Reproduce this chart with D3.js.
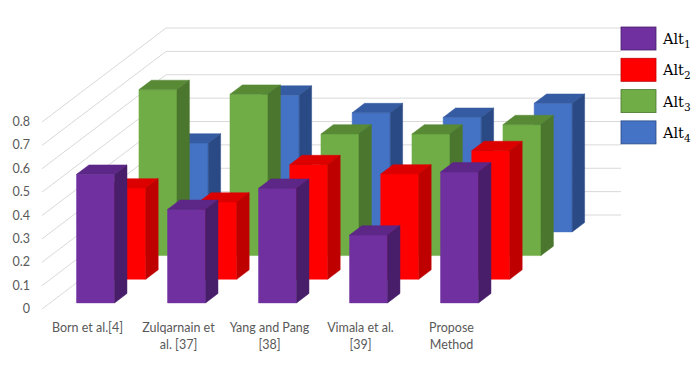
<!DOCTYPE html>
<html>
<head>
<meta charset="utf-8">
<script src="https://cdn.jsdelivr.net/npm/d3@7"></script>
<style>
  html, body { margin: 0; padding: 0; background: #fff; }
  svg { display: block; }
</style>
</head>
<body>
<svg id="chart" width="700" height="371"></svg>
<script>
// ---- data ----
const categories = [["Born et al.[4]"], ["Zulqarnain et", "al. [37]"], ["Yang and Pang", "[38]"], ["Vimala et al.", "[39]"], ["Propose", "Method"]];
const seriesNames = ["1", "2", "3", "4"];
const alt1 = [0.55, 0.40, 0.49, 0.29, 0.56];
const alt2 = [0.39, 0.33, 0.49, 0.45, 0.55];
const alt3 = [0.71, 0.69, 0.52, 0.52, 0.56];
const alt4 = [0.38, 0.585, 0.51, 0.49, 0.55];
const yTicks = [0, 0.1, 0.2, 0.3, 0.4, 0.5, 0.6, 0.7, 0.8];

const seriesValues = [alt1, alt2, alt3, alt4];
const colors = [
  {front: "#7030A0", top: "#5C2787", side: "#481E6B"},
  {front: "#FF0000", top: "#DD0000", side: "#BE0000"},
  {front: "#70AD47", top: "#588A36", side: "#4A762E"},
  {front: "#4472C4", top: "#355CA3", side: "#2A4A86"}
];

const svg = d3.select("#chart");

// oblique 3D projection
const DX = 124, DY = 94;           // offset of back wall relative to front plane
const x = d3.scaleBand().domain(d3.range(categories.length)).range([42, 497]).paddingInner(0.582).paddingOuter(0.291);
const y = d3.scaleLinear().domain([0, 0.8]).range([309, 122]);
const rowFront = d3.scaleLinear().domain([0, 3]).range([0.065, 0.82]); // depth of each series row
const barDepth = 0.1;
const P = (xf, v, d) => [xf + DX * d, y(v) - DY * d];

// gridlines: left wall diagonal + back wall horizontal
const grid = svg.append("g").attr("fill", "none").attr("stroke", "#D9D9D9").attr("stroke-width", 1);
yTicks.forEach(v => {
  const a = P(42, v, 0), b = P(42, v, 1), c = P(497, v, 1);
  grid.append("polyline").attr("points", [a, b, c].map(p => p.join(",")).join(" "));
});

// y tick labels
svg.append("g").selectAll("text").data(yTicks).join("text")
  .attr("x", 30).attr("y", d => y(d) + 4)
  .attr("text-anchor", "end")
  .attr("font-family", "Lato, 'Open Sans', sans-serif").attr("font-size", 12.5)
  .attr("fill", "#595959")
  .text(d => d === 0 ? "0" : d3.format(".1f")(d));

// bars, back rows first
const bars = svg.append("g");
for (let s = 3; s >= 0; s--) {
  const d0 = rowFront(s), d1 = d0 + barDepth;
  seriesValues[s].forEach((v, i) => {
    const xl = x(i), xr = x(i) + x.bandwidth();
    const g = bars.append("g");
    const poly = pts => pts.map(p => p.join(",")).join(" ");
    // front face
    g.append("polygon").attr("points", poly([P(xl, 0, d0), P(xr, 0, d0), P(xr, v, d0), P(xl, v, d0)]))
      .attr("fill", colors[s].front).attr("stroke", colors[s].front).attr("stroke-width", 0.5);
    // top face
    g.append("polygon").attr("points", poly([P(xl, v, d0), P(xr, v, d0), P(xr, v, d1), P(xl, v, d1)]))
      .attr("fill", colors[s].top).attr("stroke", colors[s].top).attr("stroke-width", 0.5);
    // side face
    g.append("polygon").attr("points", poly([P(xr, 0, d0), P(xr, 0, d1), P(xr, v, d1), P(xr, v, d0)]))
      .attr("fill", colors[s].side).attr("stroke", colors[s].side).attr("stroke-width", 0.5);
  });
}

// category labels
const cat = svg.append("g").attr("font-family", "Lato, 'Open Sans', sans-serif").attr("font-size", 12.5).attr("fill", "#595959").attr("text-anchor", "middle");
categories.forEach((lines, i) => {
  const cx = x(i) + x.bandwidth() / 2;
  lines.forEach((t, k) => {
    cat.append("text").attr("x", cx).attr("y", 332 + k * 17).text(t);
  });
});

// legend
const leg = svg.append("g");
seriesNames.forEach((n, s) => {
  const yy = 27 + s * 31.3;
  leg.append("rect").attr("x", 621).attr("y", yy).attr("width", 35).attr("height", 23)
    .attr("fill", colors[s].front).attr("stroke", colors[s].side).attr("stroke-width", 0.8);
  const t = leg.append("text").attr("x", 663).attr("y", yy + 17)
    .attr("font-family", "'DejaVu Serif', 'Liberation Serif', serif").attr("font-size", 14.5).attr("fill", "#000");
  t.append("tspan").text("Alt");
  t.append("tspan").attr("font-size", 10.5).attr("dy", 4).text(n);
});
</script>
</body>
</html>
